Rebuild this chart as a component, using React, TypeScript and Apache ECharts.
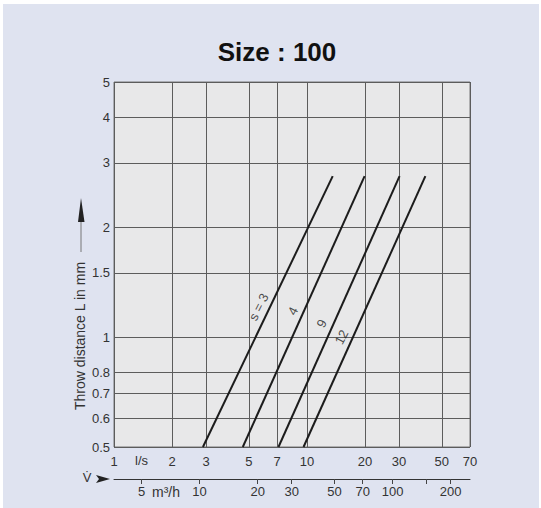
import React, { useEffect, useRef } from "react";
import * as echarts from "echarts";

const TITLE = "Size : 100";
const Y_NAME = "Throw distance L in mm";
const X_LABELS = [1, 2, 3, 5, 7, 10, 20, 30, 50, 70];
const X_GRID = [1, 2, 3, 5, 7, 10, 20, 30, 50, 70];
const Y_LABELS = [0.5, 0.6, 0.7, 0.8, 1, 1.5, 2, 3, 4, 5];
const Y_GRID = [0.5, 0.6, 0.7, 0.8, 1, 1.5, 2, 3, 4, 5];
const M3H_LABELS = [5, 10, 20, 30, 50, 70, 100, 200];
const M3H_TICKS = [5, 10, 20, 30, 50, 70, 100, 150, 200];
const LS_TO_M3H = 3.6;
const X_MIN = 1;
const X_MAX = 70;
const Y_MIN = 0.5;
const Y_MAX = 5;

const CURVE_NAMES = ["s = 3", "4", "9", "12"];
const FLOW_START = [2.89, 4.65, 7.12, 9.6];
const FLOW_END = [13.6, 19.9, 30.2, 41.1];
const THROW_START = [0.5, 0.5, 0.5, 0.5];
const THROW_END = [2.76, 2.76, 2.76, 2.76];
const LABEL_FLOW = [5.62, 8.45, 11.9, 15.1];
const LABEL_THROW = [1.21, 1.18, 1.09, 1.0];

const FONT = "'Liberation Sans', Arial, Helvetica, sans-serif";

export default function App() {
  const ref = useRef<HTMLDivElement>(null);

  useEffect(() => {
    document.body.style.margin = "0";
    if (!ref.current) return;
    const chart = echarts.init(ref.current, undefined, { renderer: "svg" });

    const lineSeries = CURVE_NAMES.map((name, i) => ({
      name,
      type: "line",
      xAxisIndex: 0,
      yAxisIndex: 0,
      symbol: "none",
      silent: true,
      lineStyle: { color: "#1c1c1c", width: 2 },
      data: [
        [FLOW_START[i], THROW_START[i]],
        [FLOW_END[i], THROW_END[i]],
      ],
      z: 3,
    }));

    const labelSeries = {
      type: "scatter",
      xAxisIndex: 0,
      yAxisIndex: 0,
      symbolSize: 1,
      itemStyle: { color: "rgba(0,0,0,0)" },
      silent: true,
      label: {
        show: true,
        position: "inside",
        formatter: "{b}",
        rotate: 63,
        color: "#222",
        fontSize: 13,
        fontFamily: FONT,
      },
      data: CURVE_NAMES.map((name, i) => ({
        name,
        value: [LABEL_FLOW[i], LABEL_THROW[i]],
      })),
      z: 4,
    };

    chart.setOption({
      animation: false,
      backgroundColor: "#dfe3f0",
      title: {
        text: TITLE,
        left: 269,
        top: 30,
        textAlign: "center",
        textStyle: {
          fontSize: 26,
          fontWeight: "bold",
          color: "#111",
          fontFamily: FONT,
        },
      },
      grid: {
        left: 111,
        right: 69,
        top: 78,
        bottom: 61,
        show: true,
        backgroundColor: "#e8e8e9",
        borderColor: "#777",
        borderWidth: 1,
      },
      xAxis: [
        {
          type: "log",
          logBase: 10,
          min: X_MIN,
          max: X_MAX,
          position: "bottom",
          axisLine: { show: false },
          axisTick: { show: false, customValues: X_GRID },
          axisLabel: {
            customValues: X_LABELS,
            formatter: (v: number) => String(v),
            color: "#333",
            fontSize: 13,
            fontFamily: FONT,
            margin: 8,
          },
          splitLine: { show: true, lineStyle: { color: "#5c5c5c", width: 1 } },
        },
        {
          type: "log",
          logBase: 10,
          min: X_MIN * LS_TO_M3H,
          max: X_MAX * LS_TO_M3H,
          position: "bottom",
          offset: 32,
          axisLine: { show: true, onZero: false, lineStyle: { color: "#333", width: 1 } },
          axisTick: {
            show: true,
            customValues: M3H_TICKS,
            length: 5,
            lineStyle: { color: "#444" },
          },
          axisLabel: {
            customValues: M3H_LABELS,
            formatter: (v: number) => String(v),
            color: "#333",
            fontSize: 13,
            fontFamily: FONT,
            margin: 6,
          },
          splitLine: { show: false },
        },
      ],
      yAxis: {
        type: "log",
        logBase: 10,
        min: Y_MIN,
        max: Y_MAX,
        axisLine: { show: false },
        axisTick: { show: false, customValues: Y_GRID },
        axisLabel: {
          customValues: Y_LABELS,
          formatter: (v: number) => String(v),
          color: "#333",
          fontSize: 13,
          fontFamily: FONT,
          margin: 4,
        },
        splitLine: { show: true, lineStyle: { color: "#5c5c5c", width: 1 } },
      },
      graphic: [
        {
          type: "text",
          x: 77,
          y: 332,
          rotation: Math.PI / 2,
          style: {
            text: Y_NAME,
            fontSize: 14,
            fontFamily: FONT,
            fill: "#333",
            textAlign: "center",
            textVerticalAlign: "middle",
          },
        },
        {
          type: "text",
          x: 138.5,
          y: 456.7,
          style: {
            text: "l/s",
            fontSize: 13,
            fontFamily: FONT,
            fill: "#333",
            textAlign: "center",
            textVerticalAlign: "middle",
          },
        },
        {
          type: "text",
          x: 163,
          y: 488,
          style: {
            text: "m\u00b3/h",
            fontSize: 14,
            fontFamily: FONT,
            fill: "#333",
            textAlign: "center",
            textVerticalAlign: "middle",
          },
        },
        {
          type: "text",
          x: 84,
          y: 473,
          style: {
            text: "V\u0307",
            fontSize: 13,
            fontFamily: FONT,
            fill: "#333",
            textAlign: "center",
            textVerticalAlign: "middle",
          },
        },
        {
          type: "polygon",
          shape: { points: [[93, 471], [107, 475], [93, 479], [96, 475]] },
          style: { fill: "#222" },
        },
        {
          type: "line",
          shape: { x1: 78, y1: 248, x2: 78, y2: 214 },
          style: { stroke: "#777", lineWidth: 1 },
        },
        {
          type: "polygon",
          shape: { points: [[75, 218], [78, 194], [81.5, 218]] },
          style: { fill: "#222" },
        },
      ],
      series: [...lineSeries, labelSeries],
    });

    return () => chart.dispose();
  }, []);

  return (
    <div style={{ position: "relative", width: 541, height: 508, background: "#ffffff", overflow: "hidden" }}>
      <div ref={ref} style={{ position: "absolute", left: 3, top: 4, width: 536, height: 504 }} />
    </div>
  );
}
